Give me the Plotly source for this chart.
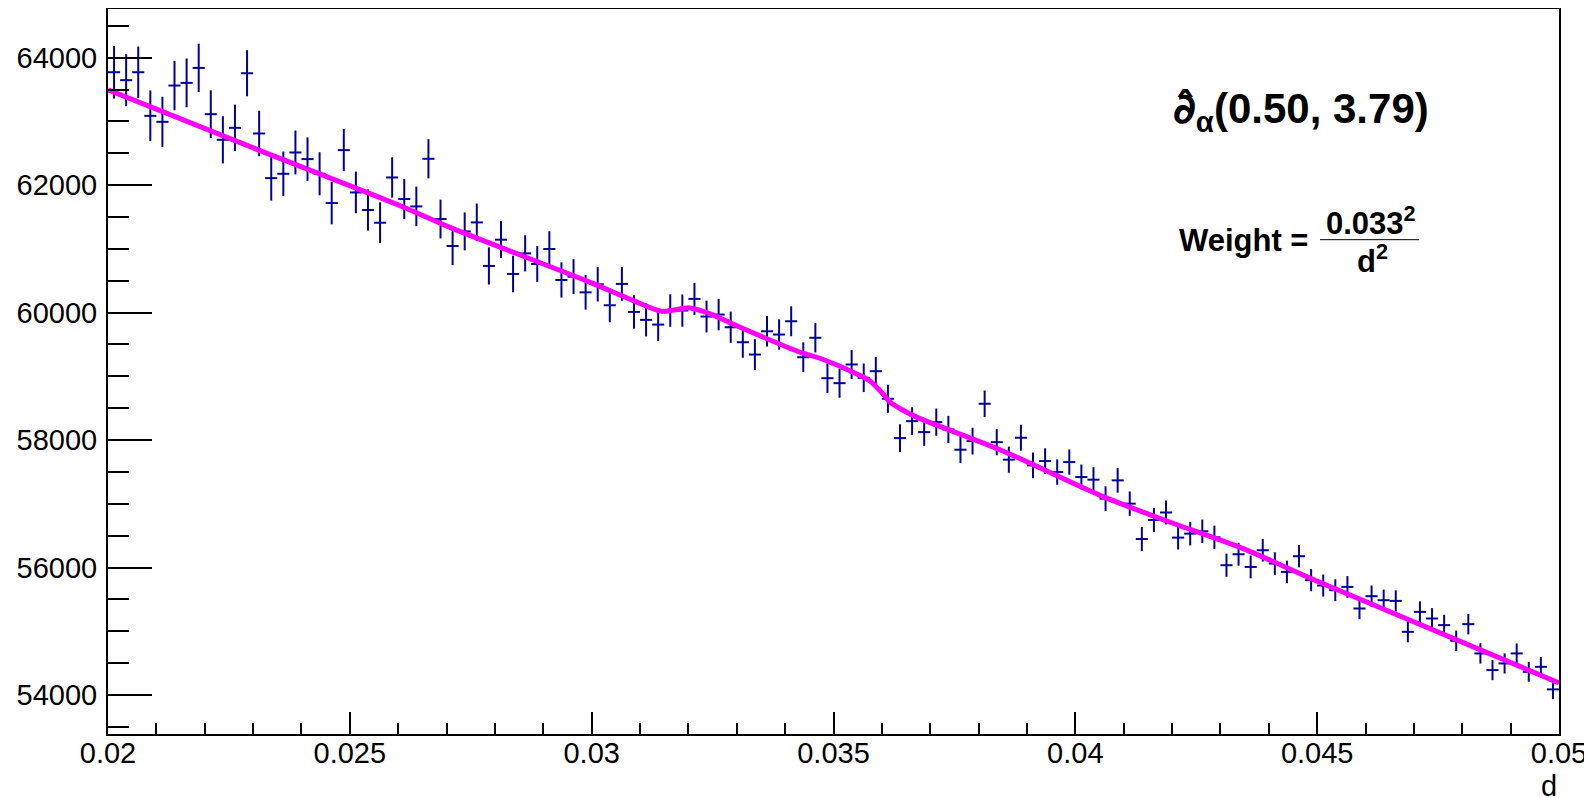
import plotly.graph_objects as go

# ---- data ----
bin_width = 0.00025
x_start = 0.02
n_bins = 120
bin_centers = [round(x_start + bin_width * (i + 0.5), 6) for i in range(n_bins)]

counts = [
    63771, 63646, 63771, 63087, 62993, 63562, 63604, 63839, 63113, 62711,
    62899, 63755, 62810, 62110, 62178, 62512, 62408, 62178, 61719, 62549,
    61885, 61609, 61410, 62120, 61782, 61666, 62413, 61468, 61045, 61274,
    61415, 60732, 61144, 60606, 60929, 60763, 60998, 60512, 60564, 60318,
    60444, 60115, 60450, 60011, 59886, 59812, 60032, 60032, 60215, 59938,
    59969, 59770, 59535, 59342, 59707, 59656, 59864, 59300, 59605, 58971,
    58893, 59186, 58977, 59081, 58648, 58031, 58297, 58125, 58282, 58167,
    57849, 57984, 58570, 57968, 57693, 58037, 57603, 57671, 57498, 57655,
    57420, 57379, 57081, 57368, 57003, 56448, 56747, 56864, 56470, 56533,
    56569, 56475, 56037, 56209, 56010, 56272, 56063, 55932, 56178, 55802,
    55718, 55645, 55697, 55358, 55551, 55488, 55477, 54992, 55305, 55201,
    55097, 54851, 55112, 54653, 54392, 54496, 54653, 54365, 54443, 54089,
]

errors = [
    413, 408, 403, 398, 393, 388, 383, 379, 374, 370,
    365, 361, 357, 353, 349, 345, 341, 338, 334, 330,
    327, 323, 320, 317, 313, 310, 307, 304, 301, 298,
    295, 292, 290, 287, 284, 282, 279, 276, 274, 271,
    269, 267, 264, 262, 260, 257, 255, 253, 251, 249,
    247, 245, 243, 241, 239, 237, 235, 233, 231, 230,
    228, 226, 224, 222, 221, 219, 218, 216, 214, 213,
    211, 210, 208, 207, 205, 204, 202, 201, 199, 198,
    197, 195, 194, 193, 191, 190, 189, 188, 186, 185,
    184, 183, 182, 180, 179, 178, 177, 176, 175, 174,
    173, 171, 170, 169, 168, 167, 166, 165, 164, 163,
    162, 161, 160, 160, 159, 158, 157, 156, 155, 154,
]

fit_x = [0.0200, 0.0229, 0.02604, 0.02707, 0.02997, 0.03086, 0.03145, 0.03203,
         0.03245, 0.03307, 0.03431, 0.03472, 0.03555, 0.03576, 0.03596, 0.03617,
         0.03638, 0.03672, 0.03844, 0.04051, 0.04189, 0.04347, 0.04499, 0.0500]
fit_y = [63495, 62615, 61677, 61337, 60475, 60188, 60021, 60074,
         59980, 59770, 59378, 59284, 59013, 58924, 58778, 58595,
         58492, 58360, 57849, 57133, 56731, 56298, 55790, 54190]

x_major = [0.02, 0.025, 0.03, 0.035, 0.04, 0.045, 0.05]
x_major_text = ["0.02", "0.025", "0.03", "0.035", "0.04", "0.045", "0.05"]
y_major = [54000, 56000, 58000, 60000, 62000, 64000]
y_major_text = ["54000", "56000", "58000", "60000", "62000", "64000"]

x_minor = [round(0.02 + 0.001 * k, 4) for k in range(31) if k % 5 != 0]
y_minor = [53500 + 500 * k for k in range(23) if (53500 + 500 * k) % 2000 != 0]

FONT = "Liberation Sans, Arial, Helvetica, sans-serif"
DATA_COLOR = "#000099"

fig = go.Figure()
fig.add_trace(go.Scatter(
    x=bin_centers, y=counts, mode="markers",
    marker=dict(size=1, color=DATA_COLOR),
    error_y=dict(type="data", array=errors, visible=True, color=DATA_COLOR, thickness=2, width=0),
    error_x=dict(type="constant", value=bin_width / 2, visible=True, color=DATA_COLOR, thickness=2, width=0),
    showlegend=False, hoverinfo="x+y",
))
fig.add_trace(go.Scatter(
    x=fit_x, y=fit_y, mode="lines",
    line=dict(color="#ff00ff", width=5, shape="spline", smoothing=0.8),
    showlegend=False,
))

# page pixel layout (the html body adds an 8 px offset)
OFF = 8
L, R, T, B = 108, 1559, 8, 734
W, H = 1592, 798

def px(xp):
    return (xp - L) / (R - L)

def py(yp):
    return (B - yp) / (B - T)

fig.update_layout(
    width=W, height=H,
    margin=dict(l=L - OFF, r=W - (R - OFF), t=max(T - OFF, 1), b=H - (B - OFF), pad=0, autoexpand=False),
    paper_bgcolor="white", plot_bgcolor="white",
    font=dict(family=FONT, size=29, color="black"),
    xaxis=dict(
        range=[0.02, 0.05], tickmode="array", tickvals=x_major, ticktext=x_major_text,
        ticks="inside", ticklen=22, tickwidth=2, tickcolor="black",
        minor=dict(tickmode="array", tickvals=x_minor, ticks="inside", ticklen=11, tickwidth=2, tickcolor="black"),
        showline=True, linewidth=2, linecolor="black", mirror=True, automargin=False,
        showgrid=False, zeroline=False, tickfont=dict(size=29, family=FONT),
        ticklabelstandoff=-8,
    ),
    yaxis=dict(
        range=[53389, 64763], tickmode="array", tickvals=y_major, ticktext=y_major_text,
        ticks="inside", ticklen=44, tickwidth=2, tickcolor="black",
        minor=dict(tickmode="array", tickvals=y_minor, ticks="inside", ticklen=21, tickwidth=2, tickcolor="black"),
        showline=True, linewidth=2, linecolor="black", mirror=True, automargin=False,
        showgrid=False, zeroline=False, tickfont=dict(size=29, family=FONT),
        ticklabelstandoff=3,
    ),
)

annos = [
    dict(text="<b><span style=\"font-family:'DejaVu Sans'\">\u2202\u0302</span><sub>\u03b1</sub>(0.50, 3.79)</b>",
         x=px(1171), y=py(110),
         xanchor="left", yanchor="middle", font=dict(size=42, family=FONT)),
    dict(text="<b>Weight =</b>", x=px(1177), y=py(240),
         xanchor="left", yanchor="middle", font=dict(size=31, family=FONT)),
    dict(text="<b>0.033<sup>2</sup></b>", x=px(1371), y=py(220),
         xanchor="center", yanchor="middle", font=dict(size=31, family=FONT)),
    dict(text="<b>d<sup>2</sup></b>", x=px(1372), y=py(258),
         xanchor="center", yanchor="middle", font=dict(size=31, family=FONT)),
    dict(text="d", x=1.0, y=py(786), xanchor="right", yanchor="middle",
         font=dict(size=29, family=FONT)),
]
for a in annos:
    fig.add_annotation(xref="paper", yref="paper", showarrow=False, **a)

fig.add_shape(type="line", xref="paper", yref="paper",
              x0=px(1320), x1=px(1419), y0=py(239), y1=py(239),
              line=dict(color="black", width=1))

fig.write_html("out.html")
